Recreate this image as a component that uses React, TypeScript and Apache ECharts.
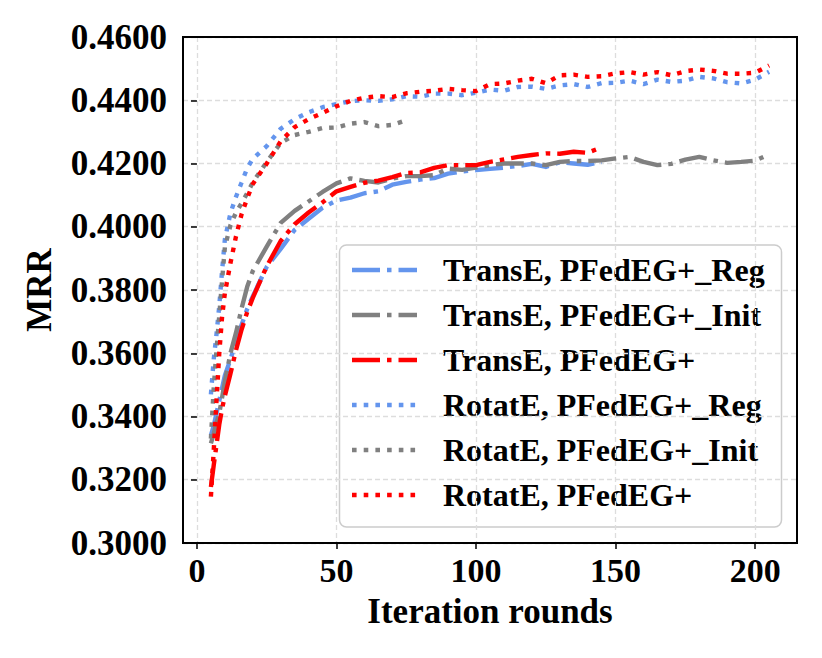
import React, { useEffect, useRef } from "react";
import * as echarts from "echarts";

const ROUNDS = [5, 6, 7, 8, 9, 10, 12, 14, 16, 18, 20, 25, 30, 35, 40, 45, 50, 55, 60, 65, 70, 75, 80, 85, 90, 95, 100, 105, 110, 115, 120, 125, 130, 135, 140, 145, 150, 155, 160, 165, 170, 175, 180, 185, 190, 195, 200, 205];

const TRANSE_REG = [0.334, 0.337, 0.341, 0.345, 0.349, 0.353, 0.358, 0.364, 0.369, 0.374, 0.378, 0.3873, 0.393, 0.399, 0.4025, 0.406, 0.4083, 0.4092, 0.4106, 0.4112, 0.4133, 0.4142, 0.4149, 0.4154, 0.4168, 0.4175, 0.4179, 0.4183, 0.4187, 0.4192, 0.4199, 0.4189, 0.4204, 0.42, 0.4196, 0.4205];
const TRANSE_INIT = [0.3315, 0.3345, 0.338, 0.341, 0.346, 0.351, 0.36, 0.3665, 0.3742, 0.381, 0.386, 0.3937, 0.4012, 0.405, 0.408, 0.411, 0.4137, 0.4153, 0.4145, 0.414, 0.4152, 0.416, 0.416, 0.4163, 0.4184, 0.418, 0.4187, 0.4195, 0.42, 0.42, 0.42, 0.4195, 0.4205, 0.4208, 0.4208, 0.421, 0.4216, 0.4221, 0.4205, 0.4195, 0.4199, 0.4212, 0.4221, 0.421, 0.4202, 0.4205, 0.4209, 0.4229];
const TRANSE_PFED = [0.3177, 0.3245, 0.331, 0.3375, 0.3425, 0.3465, 0.3535, 0.361, 0.3675, 0.373, 0.3775, 0.3875, 0.3955, 0.4008, 0.4045, 0.4077, 0.4112, 0.4126, 0.4139, 0.4146, 0.4157, 0.417, 0.4172, 0.4186, 0.4195, 0.4195, 0.4195, 0.4205, 0.4213, 0.4221, 0.4227, 0.4232, 0.4231, 0.4237, 0.4234, 0.4251];
const ROTATE_REG = [0.347, 0.358, 0.366, 0.375, 0.386, 0.396, 0.4043, 0.4095, 0.414, 0.4185, 0.4215, 0.4255, 0.431, 0.434, 0.4362, 0.4378, 0.4388, 0.4397, 0.44, 0.4398, 0.4403, 0.4413, 0.4411, 0.4421, 0.4421, 0.4416, 0.4424, 0.4434, 0.443, 0.4442, 0.4443, 0.4436, 0.4447, 0.4451, 0.4442, 0.4454, 0.4455, 0.4462, 0.4451, 0.4465, 0.4458, 0.4462, 0.4474, 0.4469, 0.4457, 0.4453, 0.4465, 0.449];
const ROTATE_INIT = [0.333, 0.349, 0.361, 0.372, 0.383, 0.3935, 0.4005, 0.4045, 0.4075, 0.4106, 0.414, 0.4205, 0.4265, 0.429, 0.43, 0.4312, 0.4314, 0.4326, 0.4331, 0.4318, 0.4322, 0.4337];
const ROTATE_PFED = [0.3147, 0.329, 0.345, 0.36, 0.3715, 0.379, 0.3885, 0.397, 0.404, 0.409, 0.4135, 0.42, 0.427, 0.4315, 0.434, 0.436, 0.4381, 0.4398, 0.4408, 0.4413, 0.441, 0.4422, 0.4427, 0.443, 0.4436, 0.4432, 0.4429, 0.4451, 0.4453, 0.4462, 0.4468, 0.4454, 0.4479, 0.4481, 0.4474, 0.4476, 0.4485, 0.4489, 0.4481, 0.4489, 0.4479, 0.4492, 0.4497, 0.4493, 0.4484, 0.4484, 0.4487, 0.451];

const SERIES_NAMES = [
  "TransE, PFedEG+_Reg",
  "TransE, PFedEG+_Init",
  "TransE, PFedEG+",
  "RotatE, PFedEG+_Reg",
  "RotatE, PFedEG+_Init",
  "RotatE, PFedEG+",
];
const SERIES_VALUES = [TRANSE_REG, TRANSE_INIT, TRANSE_PFED, ROTATE_REG, ROTATE_INIT, ROTATE_PFED];
const X_TICKS = [0, 50, 100, 150, 200];

const BLUE = "#6495ED";
const GRAY = "#808080";
const RED = "#FF0000";
const COLORS = [BLUE, GRAY, RED, BLUE, GRAY, RED];
const DASHDOT = [28, 7, 4.5, 7];
const DOTTED = [4.6, 7.1];
const DASHES = [DASHDOT, DASHDOT, DASHDOT, DOTTED, DOTTED, DOTTED];
const LW = 4.4;
const FONT = "'Liberation Serif', 'Times New Roman', Times, serif";

export default function App() {
  const ref = useRef<HTMLDivElement>(null);
  useEffect(() => {
    document.body.style.margin = "0";
    const chart = echarts.init(ref.current!, null, { renderer: "svg" });

    const series = SERIES_NAMES.map((name, k) => ({
      name,
      type: "line",
      symbol: "none",
      showSymbol: false,
      data: SERIES_VALUES[k].map((v, i) => [ROUNDS[i], v]),
      lineStyle: { color: COLORS[k], width: LW, type: DASHES[k], cap: "butt", join: "round" },
      itemStyle: { color: COLORS[k] },
      z: 3,
    }));

    const legendLeft = 339.5;
    const legendTop = 245;
    const rowGap = 45;
    const legendChildren: any[] = [
      {
        type: "rect",
        shape: { x: legendLeft, y: legendTop, width: 442, height: 282, r: 7 },
        style: { fill: "rgba(255,255,255,0.85)", stroke: "#cccccc", lineWidth: 1.5 },
      },
    ];
    SERIES_NAMES.forEach((name, k) => {
      const y = 270 + rowGap * k;
      legendChildren.push({
        type: "line",
        shape: { x1: 352, y1: y, x2: 417, y2: y },
        style: { stroke: COLORS[k], lineWidth: LW, lineDash: DASHES[k], lineCap: "butt" },
      });
      legendChildren.push({
        type: "text",
        x: 443,
        y: y,
        style: {
          text: name,
          fill: "#000",
          font: `bold 32px ${FONT}`,
          verticalAlign: "middle",
          align: "left",
        },
      });
    });

    chart.setOption({
      animation: false,
      backgroundColor: "#ffffff",
      grid: { left: 183, right: 25, top: 37, bottom: 115, show: true, borderColor: "#000", borderWidth: 2, backgroundColor: "transparent", z: 4 },
      xAxis: {
        type: "value",
        min: -5,
        max: 215,
        splitNumber: 5,
        name: "Iteration rounds",
        nameLocation: "middle",
        nameGap: 51,
        nameTextStyle: { fontFamily: FONT, fontWeight: "bold", fontSize: 35, color: "#000" },
        axisLine: { show: false },
        axisTick: { show: true, length: 6, inside: false, customValues: X_TICKS, lineStyle: { color: "#000", width: 1.5 } },
        axisLabel: { customValues: X_TICKS, margin: 10, fontFamily: FONT, fontWeight: "bold", fontSize: 34, color: "#000" },
        splitLine: { show: true, lineStyle: { color: "#dddddd", width: 1.3, type: [5, 3] } },
      },
      yAxis: {
        type: "value",
        min: 0.3,
        max: 0.46,
        interval: 0.02,
        name: "MRR",
        nameLocation: "middle",
        nameGap: 126,
        nameTextStyle: { fontFamily: FONT, fontWeight: "bold", fontSize: 35, color: "#000" },
        axisLine: { show: false },
        axisTick: { show: true, length: 6, inside: false, lineStyle: { color: "#000", width: 1.5 } },
        axisLabel: {
          margin: 16,
          fontFamily: FONT,
          fontWeight: "bold",
          fontSize: 35,
          color: "#000",
          formatter: (v: number) => v.toFixed(4),
        },
        splitLine: { show: true, lineStyle: { color: "#dddddd", width: 1.3, type: [5, 3] } },
      },
      series,
      graphic: [{ type: "group", z: 100, children: legendChildren }],
    });
    return () => chart.dispose();
  }, []);
  return <div ref={ref} style={{ width: 822, height: 658 }} />;
}
